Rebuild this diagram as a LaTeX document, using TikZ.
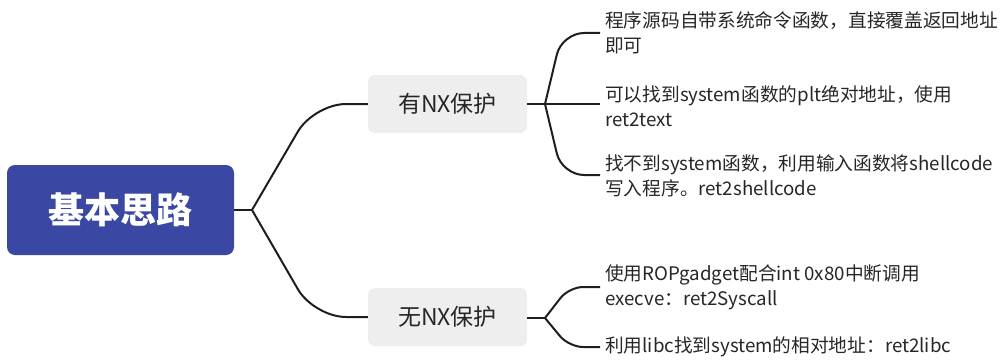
\documentclass[tikz,border=0pt]{standalone}
\usepackage{fontspec}
\setmainfont{Noto Sans CJK SC}
\definecolor{rootblue}{RGB}{58,72,164}
\definecolor{boxgray}{RGB}{238,238,238}
\definecolor{linec}{RGB}{30,30,30}
\tikzset{
  rootbox/.style={fill=rootblue, rounded corners=8pt, minimum width=227pt, minimum height=90pt, inner sep=0pt, text=white, font=\fontsize{36}{40}\selectfont\bfseries},
  midbox/.style={fill=boxgray, rounded corners=7pt, minimum width=159pt, minimum height=58pt, inner sep=0pt, text=black!85, font=\fontsize{23}{26}\selectfont},
  leaftext/.style={anchor=west, align=left, inner xsep=5pt, inner ysep=0pt, text=black!85, font=\fontsize{18.7}{25}\selectfont},
  conn/.style={draw=linec, line width=2pt},
}
\begin{document}
\begin{tikzpicture}[x=1pt,y=-1pt]
\useasboundingbox (0,0) rectangle (1000,361);
\node[rootbox] (root) at (120.5,210) {基本思路};
\node[midbox] (nx1) at (447.5,104) {有NX保护};
\node[midbox] (nx0) at (447.5,317) {无NX保护};
\coordinate (j0) at (252,210);
\coordinate (j1) at (545,104);
\coordinate (j2) at (545,318);
\node[leaftext] (l1) at (600,33) {程序源码自带系统命令函数，直接覆盖返回地址\\即可};
\node[leaftext] (l2) at (600,106) {可以找到system函数的plt绝对地址，使用\\ret2text};
\node[leaftext] (l3) at (600,176) {找不到system函数，利用输入函数将shellcode\\写入程序。ret2shellcode};
\node[leaftext] (l4) at (600,287) {使用ROPgadget配合int 0x80中断调用\\execve：ret2Syscall};
\node[leaftext] (l5) at (600,347) {利用libc找到system的相对地址：ret2libc};
% root branches
\draw[conn] (root.east) -- (j0);
\draw[conn, rounded corners=32pt] (j0) -- (314,104) -- (nx1.west);
\draw[conn, rounded corners=32pt] (j0) -- (314,317) -- (nx0.west);
% upper leaves
\draw[conn] (nx1.east) -- (j1);
\draw[conn, rounded corners=22pt] (j1) -- (562,33) -- (l1.west |- 0,33);
\draw[conn] (j1) -- (l2.west |- 0,104);
\draw[conn, rounded corners=22pt] (j1) -- (562,175) -- (l3.west |- 0,175);
% lower leaves
\draw[conn] (nx0.east |- 0,318) -- (j2);
\draw[conn, rounded corners=14pt] (j2) -- (569,287) -- (l4.west);
\draw[conn, rounded corners=14pt] (j2) -- (569,347) -- (l5.west);
\end{tikzpicture}
\end{document}
